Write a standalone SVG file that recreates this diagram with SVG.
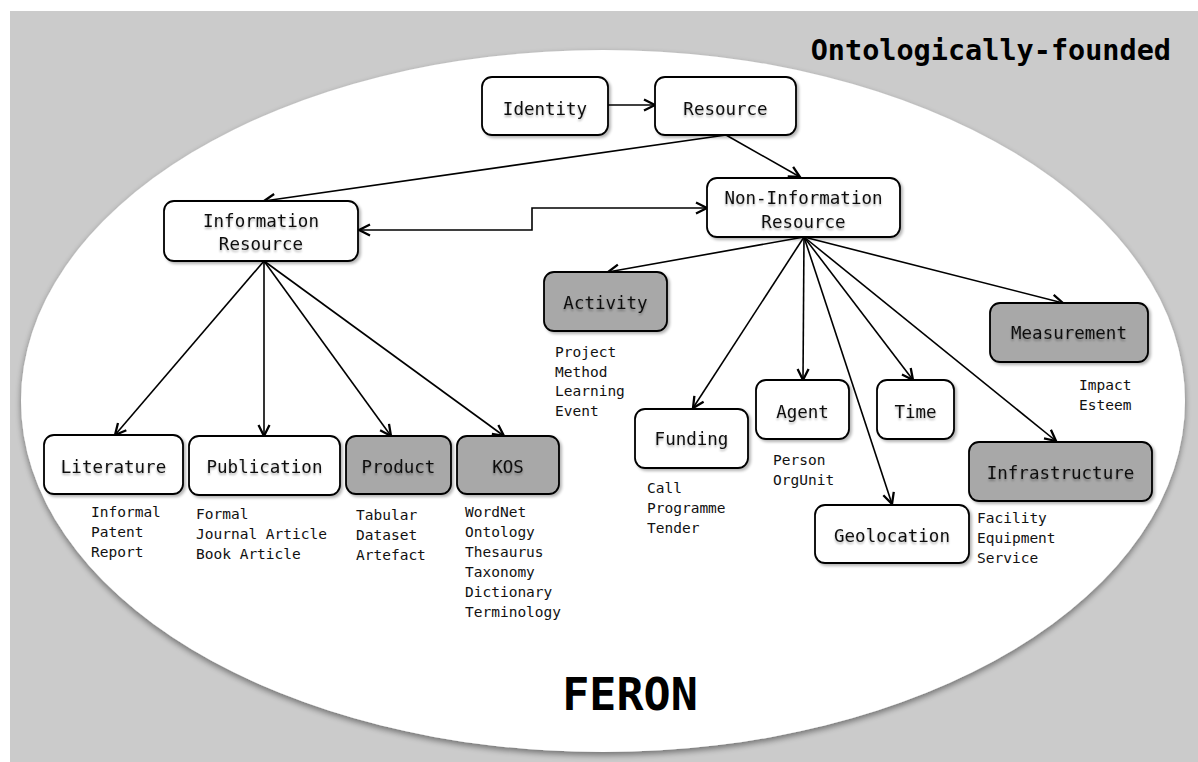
<svg xmlns="http://www.w3.org/2000/svg" width="1198" height="762" viewBox="0 0 1198 762">
  <defs>
    <filter id="ellipseShadow" x="-5%" y="-5%" width="110%" height="112%">
      <feGaussianBlur in="SourceAlpha" stdDeviation="3"/>
      <feOffset dx="0" dy="3" result="b"/>
      <feComponentTransfer><feFuncA type="linear" slope="0.45"/></feComponentTransfer>
      <feMerge><feMergeNode/><feMergeNode in="SourceGraphic"/></feMerge>
    </filter>
    <filter id="boxShadow" x="-10%" y="-10%" width="125%" height="130%">
      <feGaussianBlur in="SourceAlpha" stdDeviation="1.5"/>
      <feOffset dx="1.5" dy="2" result="b"/>
      <feComponentTransfer><feFuncA type="linear" slope="0.3"/></feComponentTransfer>
      <feMerge><feMergeNode/><feMergeNode in="SourceGraphic"/></feMerge>
    </filter>
    <filter id="textGlow" x="-5%" y="-20%" width="110%" height="150%">
      <feGaussianBlur in="SourceAlpha" stdDeviation="1.2"/>
      <feOffset dx="0" dy="2" result="b"/>
      <feComponentTransfer><feFuncA type="linear" slope="0.3"/></feComponentTransfer>
      <feMerge><feMergeNode/><feMergeNode in="SourceGraphic"/></feMerge>
    </filter>
    <marker id="arrow" viewBox="0 0 14 14" refX="12.5" refY="7" markerWidth="14" markerHeight="14" markerUnits="userSpaceOnUse" orient="auto-start-reverse">
      <path d="M1.5,1.5 L12.5,7 L1.5,12.5" fill="none" stroke="#000" stroke-width="2.3" stroke-linejoin="miter"/>
    </marker>
  </defs>
  <style>
    .box { fill: #ffffff; stroke: #000; stroke-width: 1.8; filter: url(#boxShadow); }
    .box.dark { fill: #a8a8a8; }
    .label { font-family: "DejaVu Sans Mono", "Liberation Mono", monospace; font-size: 17.5px; fill: #111; text-anchor: middle; filter: url(#textGlow); }
    .list { font-family: "DejaVu Sans Mono", "Liberation Mono", monospace; font-size: 14.5px; fill: #111; }
    .edge { fill: none; stroke: #000; stroke-width: 1.6; marker-end: url(#arrow); }
    .title { font-family: "DejaVu Sans Mono", "Liberation Mono", monospace; font-weight: bold; fill: #000; }
  </style>

  <!-- backdrop and the FERON ellipse -->
  <rect x="10" y="11" width="1188" height="751" fill="#cbcbcb"/>
  <ellipse cx="603" cy="401" rx="582" ry="351" fill="#ffffff" filter="url(#ellipseShadow)"/>

  <text class="title" x="1171" y="60" font-size="28.5" text-anchor="end">Ontologically-founded</text>
  <text class="title" x="630" y="710" font-size="45" text-anchor="middle">FERON</text>

  <!-- connectors -->
  <g id="connectors">
    <line class="edge" x1="608" y1="105" x2="655" y2="105"/>
    <line class="edge" x1="726" y1="135" x2="264" y2="201"/>
    <line class="edge" x1="726" y1="135" x2="800" y2="177"/>
    <path class="edge" d="M359,230 H532 V208 H707" marker-start="url(#arrow)"/>
    <line class="edge" x1="264" y1="261" x2="115" y2="435"/>
    <line class="edge" x1="264" y1="261" x2="264" y2="436"/>
    <line class="edge" x1="264" y1="261" x2="391" y2="436"/>
    <line class="edge" x1="264" y1="261" x2="504" y2="436"/>
    <line class="edge" x1="804" y1="237" x2="608" y2="272"/>
    <line class="edge" x1="804" y1="237" x2="693" y2="408"/>
    <line class="edge" x1="804" y1="237" x2="803" y2="380"/>
    <line class="edge" x1="804" y1="237" x2="892" y2="504"/>
    <line class="edge" x1="804" y1="237" x2="913" y2="380"/>
    <line class="edge" x1="804" y1="237" x2="1056" y2="441"/>
    <line class="edge" x1="804" y1="237" x2="1063" y2="303"/>
  </g>

  <!-- nodes -->
  <g id="identity">
    <rect class="box" x="482" y="77" width="126" height="58" rx="10"/>
    <text class="label" x="545" y="115">Identity</text>
  </g>
  <g id="resource">
    <rect class="box" x="655" y="77" width="141" height="58" rx="10"/>
    <text class="label" x="725.5" y="115">Resource</text>
  </g>
  <g id="information-resource">
    <rect class="box" x="164" y="201" width="194" height="60" rx="10"/>
    <text class="label" x="261" y="227">Information</text>
    <text class="label" x="261" y="250">Resource</text>
  </g>
  <g id="non-information-resource">
    <rect class="box" x="707" y="178" width="193" height="59" rx="10"/>
    <text class="label" x="803.5" y="204">Non-Information</text>
    <text class="label" x="803.5" y="228">Resource</text>
  </g>
  <g id="activity">
    <rect class="box dark" x="544" y="272" width="123" height="59" rx="10"/>
    <text class="label" x="605.5" y="309">Activity</text>
    <text class="list" x="555" y="357"><tspan x="555">Project</tspan><tspan x="555" dy="19.7">Method</tspan><tspan x="555" dy="19.7">Learning</tspan><tspan x="555" dy="19.7">Event</tspan></text>
  </g>
  <g id="literature">
    <rect class="box" x="44" y="435" width="139" height="59" rx="10"/>
    <text class="label" x="113.5" y="473">Literature</text>
    <text class="list" x="91" y="517"><tspan x="91">Informal</tspan><tspan x="91" dy="20">Patent</tspan><tspan x="91" dy="20">Report</tspan></text>
  </g>
  <g id="publication">
    <rect class="box" x="189" y="436" width="151" height="59" rx="10"/>
    <text class="label" x="264.5" y="473">Publication</text>
    <text class="list" x="196" y="519"><tspan x="196">Formal</tspan><tspan x="196" dy="20">Journal Article</tspan><tspan x="196" dy="20">Book Article</tspan></text>
  </g>
  <g id="product">
    <rect class="box dark" x="346" y="436" width="105" height="58" rx="10"/>
    <text class="label" x="398.5" y="473">Product</text>
    <text class="list" x="356" y="520"><tspan x="356">Tabular</tspan><tspan x="356" dy="20">Dataset</tspan><tspan x="356" dy="20">Artefact</tspan></text>
  </g>
  <g id="kos">
    <rect class="box dark" x="457" y="436" width="102" height="58" rx="10"/>
    <text class="label" x="508" y="473">KOS</text>
    <text class="list" x="465" y="517"><tspan x="465">WordNet</tspan><tspan x="465" dy="20">Ontology</tspan><tspan x="465" dy="20">Thesaurus</tspan><tspan x="465" dy="20">Taxonomy</tspan><tspan x="465" dy="20">Dictionary</tspan><tspan x="465" dy="20">Terminology</tspan></text>
  </g>
  <g id="funding">
    <rect class="box" x="635" y="409" width="113" height="59" rx="10"/>
    <text class="label" x="691.5" y="445">Funding</text>
    <text class="list" x="647" y="493"><tspan x="647">Call</tspan><tspan x="647" dy="20">Programme</tspan><tspan x="647" dy="20">Tender</tspan></text>
  </g>
  <g id="agent">
    <rect class="box" x="756" y="380" width="93" height="59" rx="10"/>
    <text class="label" x="802.5" y="418">Agent</text>
    <text class="list" x="773" y="465"><tspan x="773">Person</tspan><tspan x="773" dy="20">OrgUnit</tspan></text>
  </g>
  <g id="time">
    <rect class="box" x="877" y="380" width="77" height="59" rx="10"/>
    <text class="label" x="915.5" y="418">Time</text>
  </g>
  <g id="geolocation">
    <rect class="box" x="815" y="505" width="154" height="58" rx="10"/>
    <text class="label" x="892" y="542">Geolocation</text>
  </g>
  <g id="infrastructure">
    <rect class="box dark" x="969" y="442" width="183" height="59" rx="10"/>
    <text class="label" x="1060.5" y="479">Infrastructure</text>
    <text class="list" x="977" y="523"><tspan x="977">Facility</tspan><tspan x="977" dy="20">Equipment</tspan><tspan x="977" dy="20">Service</tspan></text>
  </g>
  <g id="measurement">
    <rect class="box dark" x="990" y="303" width="158" height="59" rx="10"/>
    <text class="label" x="1069" y="339">Measurement</text>
    <text class="list" x="1079" y="390"><tspan x="1079">Impact</tspan><tspan x="1079" dy="20">Esteem</tspan></text>
  </g>
</svg>
